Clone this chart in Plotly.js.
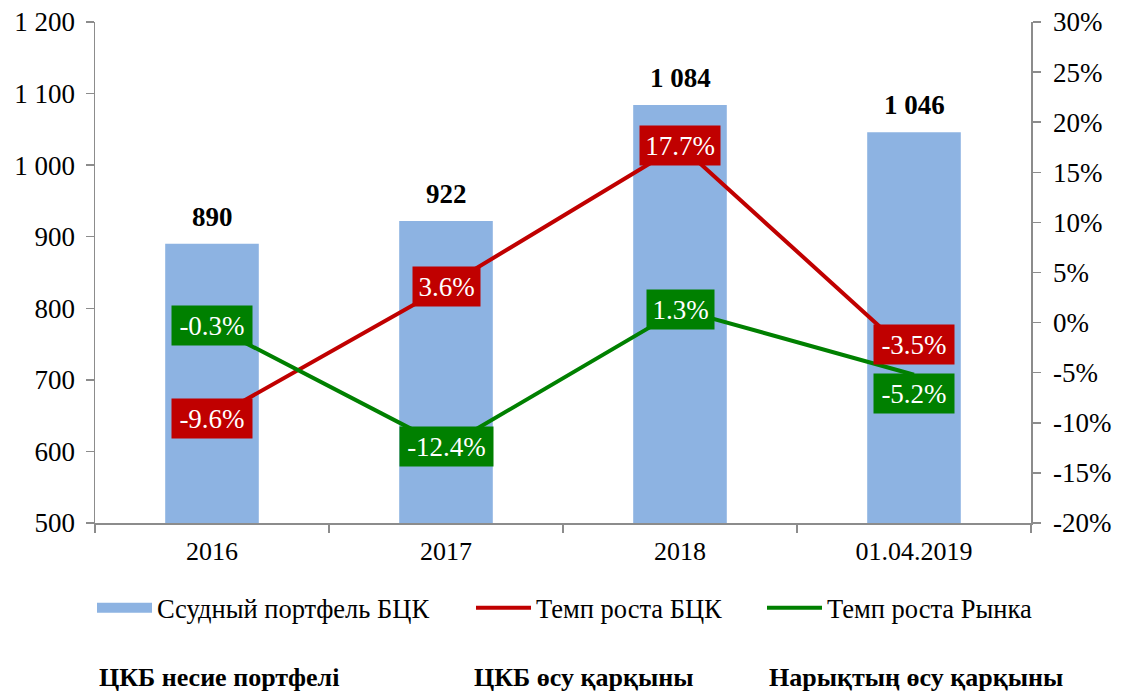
<!DOCTYPE html>
<html><head><meta charset="utf-8">
<script src="https://cdn.plot.ly/plotly-3.0.1.min.js"></script>
<style>body{margin:0;background:#fff}#chart{width:1123px;height:695px}</style>
</head><body><div id="chart"></div>
<script>
const categories = ["2016", "2017", "2018", "01.04.2019"];
const portfolio = [890, 922, 1084, 1046];
const growthBank = [-9.6, 3.6, 17.7, -3.5];
const growthMarket = [-0.3, -12.4, 1.3, -5.2];
const leftTicks = [500, 600, 700, 800, 900, 1000, 1100, 1200];
const rightTickVals = [-20, -15, -10, -5, 0, 5, 10, 15, 20, 25, 30];
const rightTickText = rightTickVals.map(v => (v < 0 ? "-" + Math.abs(v) : v) + "%");
const seriesNames = ["Ссудный портфель БЦК", "Темп роста БЦК", "Темп роста Рынка"];
const footNotes = ["ЦКБ несие портфелі", "ЦКБ өсу қарқыны", "Нарықтың өсу қарқыны"];

const FONT = "Liberation Serif, Times New Roman, serif";
const BLUE = "#8DB3E2", RED = "#C00000", GREEN = "#008000", AX = "#8c8c8c";
const fmtPct = v => (v < 0 ? "-" : "") + Math.abs(v).toFixed(1) + "%";
const fmtThous = v => String(v).replace(/\B(?=(\d{3})+(?!\d))/g, " ");

const traces = [
  {type: "bar", x: categories, y: portfolio, marker: {color: BLUE}, showlegend: false, hoverinfo: "skip"},
  {type: "scatter", mode: "lines", x: categories, y: categories.map(() => null), name: seriesNames[0],
   line: {color: BLUE, width: 14}, legend: "legend", hoverinfo: "skip"},
  {type: "scatter", mode: "lines", x: categories, y: growthBank, yaxis: "y2",
   name: seriesNames[1], line: {color: RED, width: 4}, legend: "legend2"},
  {type: "scatter", mode: "lines", x: categories, y: growthMarket, yaxis: "y2",
   name: seriesNames[2], line: {color: GREEN, width: 4}, legend: "legend3"}
];

const annotations = [];
portfolio.forEach((v, i) => annotations.push({
  x: i, y: v, xref: "x", yref: "y", text: "<b>" + fmtThous(v) + "</b>", showarrow: false,
  yanchor: "middle", yshift: 27, font: {family: FONT, size: 27, color: "#000"}
}));
// label nudges (pixels) to keep the last pair of boxes from overlapping, as in the original
const labelShift = {red: [0, 0, 0, 13], green: [0, 0, 0, -19]};
[[growthBank, RED, labelShift.red], [growthMarket, GREEN, labelShift.green]].forEach(([arr, col, sh]) => {
  arr.forEach((v, i) => {
    const t = fmtPct(v);
    annotations.push({
      x: i, y: v, xref: "x", yref: "y2", text: t, showarrow: false, yshift: sh[i],
      bgcolor: col, borderpad: 3, width: t.length * 13 + 9, height: 33,
      font: {family: FONT, size: 27, color: "#fff"}
    });
  });
});
const footX = [97, 472, 767];
footNotes.forEach((t, i) => annotations.push({
  x: (footX[i] - 95) / 936, y: (523 - 694) / 501, xref: "paper", yref: "paper",
  xanchor: "left", yanchor: "bottom", text: "<b>" + t + "</b>", showarrow: false,
  font: {family: FONT, size: 26, color: "#000"}
}));

const legBase = {orientation: "h", yanchor: "middle", y: (523 - 608) / 501, xanchor: "left",
  font: {family: FONT, size: 26.5, color: "#000"}, bgcolor: "rgba(0,0,0,0)", itemwidth: 55};

const tickCommon = {showline: true, linecolor: AX, linewidth: 1.5, ticks: "outside", ticklen: 8,
  tickcolor: AX, tickwidth: 1.5, showgrid: false, zeroline: false,
  tickfont: {family: FONT, size: 27, color: "#000"}};

const layout = {
  width: 1123, height: 695, paper_bgcolor: "#fff", plot_bgcolor: "#fff",
  margin: {l: 95, r: 92, t: 22, b: 172},
  font: {family: FONT, size: 26, color: "#000"},
  bargap: 0.6,
  showlegend: true,
  xaxis: Object.assign({}, tickCommon, {type: "category", categoryorder: "array", categoryarray: categories,
    range: [-0.5, 3.5], tickson: "boundaries", tickangle: 0, ticklabelstandoff: 4,
    tickfont: {family: FONT, size: 26, color: "#000"}}),
  yaxis: Object.assign({}, tickCommon, {range: [500, 1200], tickvals: leftTicks,
    ticktext: leftTicks.map(fmtThous), ticklabelstandoff: 5}),
  yaxis2: Object.assign({}, tickCommon, {overlaying: "y", side: "right", range: [-20, 30],
    tickvals: rightTickVals, ticktext: rightTickText, ticklabelstandoff: 7}),
  legend: Object.assign({}, legBase, {x: (92 - 95) / 936}),
  legend2: Object.assign({}, legBase, {x: (471 - 95) / 936}),
  legend3: Object.assign({}, legBase, {x: (762 - 95) / 936}),
  annotations: annotations
};
Plotly.newPlot("chart", traces, layout, {displayModeBar: false, staticPlot: true});
</script></body></html>
